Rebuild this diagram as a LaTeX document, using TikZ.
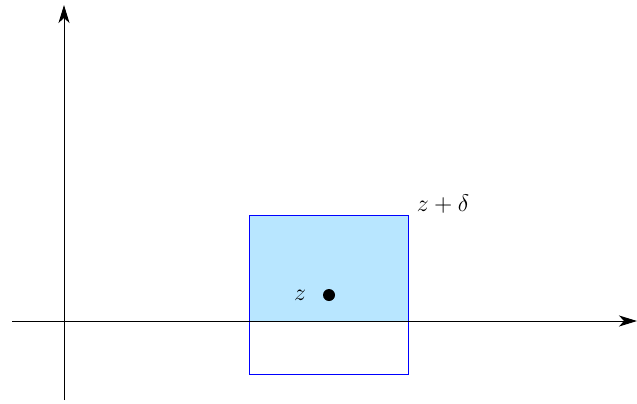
\documentclass[tikz,border=0pt]{standalone}
\usetikzlibrary{arrows.meta}
\definecolor{boxfill}{RGB}{184,230,255}
\tikzset{
  axis/.style={line width=0.5pt,-{Stealth[length=9pt,width=5.5pt,inset=2.5pt]}},
  region/.style={draw=blue,line width=0.5pt},
  lbl/.style={font=\fontsize{11.5}{13}\selectfont,inner sep=0pt},
  pt/.style={circle,fill=black,inner sep=0pt,minimum size=6pt}
}
\begin{document}
\begin{tikzpicture}[x=0.5pt,y=-0.5pt]
\useasboundingbox (0,0) rectangle (637,403);
\fill[boxfill] (249,215) rectangle (408,321);
\draw[region] (249,215) rectangle (408,374);
\coordinate (xs) at (12,321);
\coordinate (xe) at (637,321);
\coordinate (ys) at (64,400);
\coordinate (ye) at (64,5);
\draw[axis] (xs) -- (xe);
\draw[axis] (ys) -- (ye);
\node[pt] (z) at (329,295) {};
\node[lbl] (zl) at (300,295) {$z$};
\node[lbl] (zd) at (443,204) {$z+\delta$};
\end{tikzpicture}
\end{document}
